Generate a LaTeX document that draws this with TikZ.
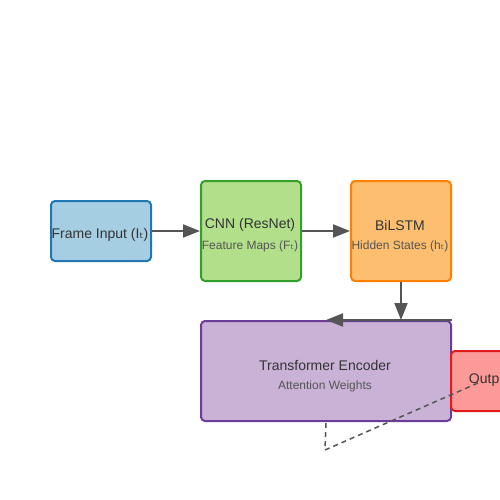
\documentclass[tikz,border=0pt]{standalone}
\usepackage{fontspec}
\setmainfont{Liberation Sans}
\newfontfamily\subfont{DejaVu Sans}
\usetikzlibrary{arrows.meta}
\definecolor{frameFill}{HTML}{A6CEE3}
\definecolor{frameLine}{HTML}{1F78B4}
\definecolor{cnnFill}{HTML}{B2DF8A}
\definecolor{cnnLine}{HTML}{33A02C}
\definecolor{lstmFill}{HTML}{FDBF6F}
\definecolor{lstmLine}{HTML}{FF7F00}
\definecolor{transFill}{HTML}{CAB2D6}
\definecolor{transLine}{HTML}{6A3D9A}
\definecolor{outFill}{HTML}{FB9A99}
\definecolor{outLine}{HTML}{E31A1C}
\definecolor{txtDark}{HTML}{333333}
\definecolor{txtGray}{HTML}{555555}
\definecolor{arrowGray}{HTML}{555555}
\newcommand{\tsub}{{\subfont ₜ}}
\begin{document}
\begin{tikzpicture}[x = 1pt, y = -1pt,
    block/.style = {draw, line width = 2pt, rounded corners = 4pt, anchor = north west, inner sep = 0pt},
    title/.style = {text = txtDark, font = \fontsize{14}{16}\selectfont, inner sep = 0pt},
    subtitle/.style = {text = txtGray, font = \fontsize{12}{14}\selectfont, inner sep = 0pt},
    flow/.style = {draw = arrowGray, line width = 2pt, -{Triangle[length = 17pt, width = 13pt]}},
    feedback/.style = {draw = arrowGray, line width = 1.5pt, dash pattern = on 5pt off 4pt}]
  \useasboundingbox (0,0) rectangle (500,500);
  \clip (0,0) rectangle (500,500);
  \node[block, fill = frameFill, draw = frameLine, minimum width = 100pt, minimum height = 60pt] (frame) at (50,200) {};
  \node[block, fill = cnnFill, draw = cnnLine, minimum width = 100pt, minimum height = 100pt] (cnn) at (200,180) {};
  \node[block, fill = lstmFill, draw = lstmLine, minimum width = 100pt, minimum height = 100pt] (lstm) at (350,180) {};
  \node[block, fill = transFill, draw = transLine, minimum width = 250pt, minimum height = 100pt] (trans) at (200,320) {};
  \node[block, fill = outFill, draw = outLine, minimum width = 80pt, minimum height = 60pt] (out) at (450,350) {};
  \node[title] (frameT) at (100,235) {Frame Input (I\tsub)};
  \node[title] (cnnT) at (250,225) {CNN (ResNet)};
  \node[subtitle] (cnnS) at (250,246) {Feature Maps (F\tsub)};
  \node[title] (lstmT) at (400,225) {BiLSTM};
  \node[subtitle] (lstmS) at (400,246) {Hidden States (h\tsub)};
  \node[title] (transT) at (325,365) {Transformer Encoder};
  \node[subtitle] (transS) at (325,386) {Attention Weights};
  \node[title] (outT) at (490,380) {Output};
  \draw[flow] (frame.east) -- (cnn.west);
  \draw[flow] (cnn.east) -- (lstm.west);
  \draw[flow] (lstm.south) -- (trans.north -| lstm.south);
  \draw[flow] (trans.north east) -- (trans.north);
  \coordinate (fbEnd) at (478,383);
  \coordinate (fbTurn) at (325,450);
  \draw[feedback] (fbEnd) -- (fbTurn) -- (trans.south);
\end{tikzpicture}
\end{document}
